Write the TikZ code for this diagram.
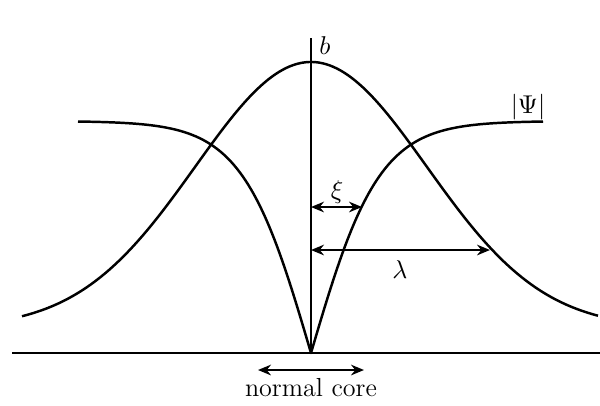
\documentclass[tikz,border=0pt]{standalone}
\usetikzlibrary{arrows.meta}
\begin{document}
\begin{tikzpicture}[x=0.4255pt,y=-0.4255pt,
  curve/.style={line width=1.05pt,line join=round},
  axisline/.style={line width=1.15pt},
  dimarrow/.style={line width=1.0pt,{Stealth[length=5.5pt,width=4.5pt]}-{Stealth[length=5.5pt,width=4.5pt]}},
  lbl/.style={inner sep=0pt,font=\fontsize{11.1}{13}\selectfont}]
\useasboundingbox (0,0) rectangle (600,405);
% axes
\coordinate (xl) at (12,353);
\coordinate (xr) at (600,353);
\coordinate (vt) at (311,38);
\coordinate (vb) at (311,353);
\draw[axisline] (xl) -- (xr);
\draw[axisline] (vt) -- (vb);
% field b
\draw[curve] plot[domain=22:598,samples=160] (\x,{353-25-266*exp(-((\x-311)/100)^2/2.68)});
% order parameter
\draw[curve] plot[domain=78:311,samples=90] (\x,{353-232*tanh((311-\x)/68.3)})
  -- plot[domain=311:543,samples=90] (\x,{353-232*tanh((\x-311)/68.3)});
% labels
\node[lbl] (b) at (325,46) {$b$};
\node[lbl] (psi) at (528,107) {$|\Psi|$};
% xi
\coordinate (xia) at (311,207);
\coordinate (xib) at (362,207);
\draw[dimarrow] (xia) -- (xib);
\node[lbl] (xi) at (337,192) {$\xi$};
% lambda
\coordinate (la) at (311,250);
\coordinate (lb) at (490,250);
\draw[dimarrow] (la) -- (lb);
\node[lbl] (lam) at (400,270) {$\lambda$};
% normal core
\coordinate (na) at (258,370);
\coordinate (nb) at (364,370);
\draw[dimarrow] (na) -- (nb);
\node[lbl] (nc) at (311,388) {normal core};
\end{tikzpicture}
\end{document}
